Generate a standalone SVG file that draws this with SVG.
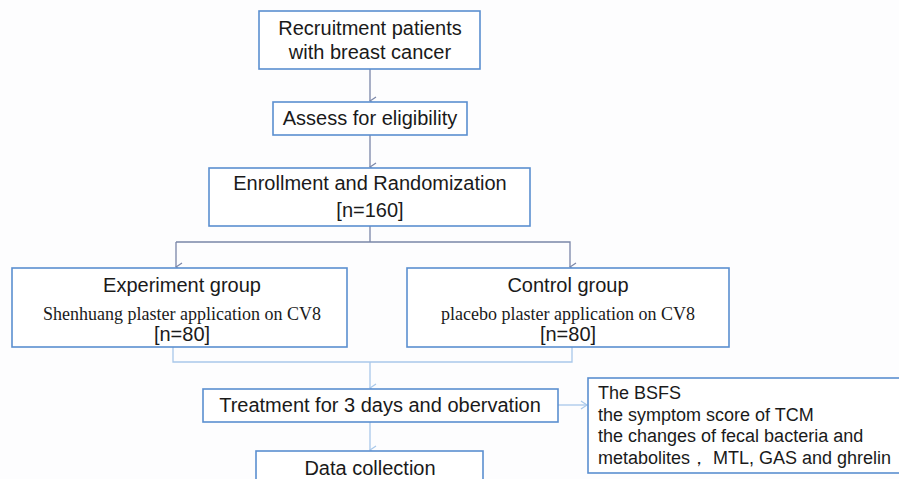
<svg xmlns="http://www.w3.org/2000/svg" width="899" height="479" viewBox="0 0 899 479">
<style>
.box{fill:#ffffff;stroke:#5b8fd0;stroke-width:1.6}
.t{font-family:"Liberation Sans",Arial,sans-serif;font-size:20px;fill:#1a1a1a;text-anchor:middle}
.s{font-family:"Liberation Serif","Times New Roman",serif;font-size:18px;fill:#1a1a1a;text-anchor:middle}
.l{font-family:"Liberation Sans",Arial,sans-serif;font-size:18px;fill:#1a1a1a}
.c1{fill:none;stroke:#7a86a8;stroke-width:1.3}
.c2{fill:none;stroke:#a9c8ea;stroke-width:1.3}
</style>
<defs>
<marker id="a1" markerWidth="10" markerHeight="10" refX="5" refY="9" orient="auto" markerUnits="userSpaceOnUse" viewBox="0 0 10 10"><path d="M1,3 L5,9 L9,3" fill="none" stroke="#7a86a8" stroke-width="1.3"/></marker>
<marker id="a2" markerWidth="10" markerHeight="10" refX="5" refY="9" orient="auto" markerUnits="userSpaceOnUse" viewBox="0 0 10 10"><path d="M1,3 L5,9 L9,3" fill="none" stroke="#a9c8ea" stroke-width="1.3"/></marker>
<marker id="a3" markerWidth="10" markerHeight="10" refX="9" refY="5" orient="auto" markerUnits="userSpaceOnUse" viewBox="0 0 10 10"><path d="M3,1 L9,5 L3,9" fill="none" stroke="#a9c8ea" stroke-width="1.3"/></marker>
</defs>
<rect width="899" height="479" fill="#fdfdfe"/>
<g id="connectors">
<line class="c1" x1="370" y1="69" x2="370" y2="101" marker-end="url(#a1)"/>
<line class="c1" x1="370" y1="135" x2="370" y2="167" marker-end="url(#a1)"/>
<polyline class="c1" points="370,226 370,242"/>
<polyline class="c1" points="176,242 570,242 570,267" marker-end="url(#a1)"/>
<line class="c1" x1="176" y1="242" x2="176" y2="267" marker-end="url(#a1)"/>
<polyline class="c2" points="173,347 173,362 572,362 572,347"/>
<line class="c2" x1="370" y1="362" x2="370" y2="388" marker-end="url(#a2)"/>
<line class="c2" x1="370" y1="422" x2="370" y2="450" marker-end="url(#a2)"/>
<line class="c2" x1="558" y1="405" x2="587" y2="405" marker-end="url(#a3)"/>
</g>
<g id="recruit">
<rect class="box" x="259" y="11" width="221" height="58"/>
<text class="t" x="370" y="35">Recruitment patients</text>
<text class="t" x="370" y="59">with breast cancer</text>
</g>
<g id="assess">
<rect class="box" x="273" y="102" width="194" height="33"/>
<text class="t" x="370" y="125">Assess for eligibility</text>
</g>
<g id="enroll">
<rect class="box" x="209" y="168" width="321" height="58"/>
<text class="t" x="370" y="190">Enrollment and Randomization</text>
<text class="t" x="370" y="217">[n=160]</text>
</g>
<g id="experiment">
<rect class="box" x="12" y="268" width="335" height="79"/>
<text class="t" x="182" y="292">Experiment group</text>
<text class="s" x="182" y="320">Shenhuang plaster application on CV8</text>
<text class="t" x="182" y="341">[n=80]</text>
</g>
<g id="control">
<rect class="box" x="407" y="268" width="322" height="79"/>
<text class="t" x="568" y="292">Control group</text>
<text class="s" x="568" y="320">placebo plaster application on CV8</text>
<text class="t" x="568" y="341">[n=80]</text>
</g>
<g id="treatment">
<rect class="box" x="203" y="389" width="355" height="33"/>
<text class="t" x="380" y="412">Treatment for 3 days and obervation</text>
</g>
<g id="outcomes">
<rect class="box" x="588" y="378" width="312" height="95"/>
<text class="l" x="598" y="399">The BSFS</text>
<text class="l" x="598" y="421">the symptom score of TCM</text>
<text class="l" x="598" y="442">the changes of fecal bacteria and</text>
<text class="l" x="598" y="464">metabolites， MTL, GAS and ghrelin</text>
</g>
<g id="data">
<rect class="box" x="256" y="451" width="227" height="40"/>
<text class="t" x="370" y="475">Data collection</text>
</g>
</svg>
